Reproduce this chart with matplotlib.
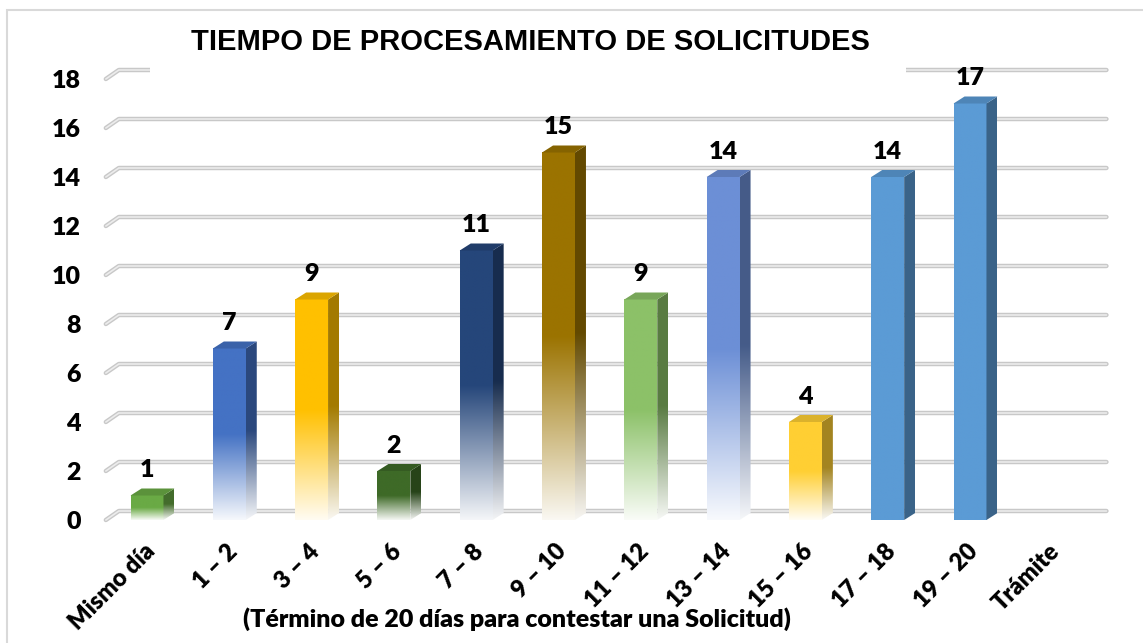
import numpy as np
import matplotlib
matplotlib.use("Agg")
import matplotlib.pyplot as plt
from matplotlib.patches import Polygon, Rectangle
from matplotlib.colors import to_rgb

# ---------------- data ----------------
categories = ["Mismo día", "1 – 2", "3 – 4", "5 – 6", "7 – 8", "9 – 10",
              "11 – 12", "13 – 14", "15 – 16", "17 – 18", "19 – 20", "Trámite"]
values = [1, 7, 9, 2, 11, 15, 9, 14, 4, 14, 17, 0]
bar_colors = ["#6AAA45", "#4472C4", "#FFC000", "#3E6A27", "#25467A", "#9B7300",
              "#8CC168", "#6C8FD6", "#FFCF33", "#5B9BD5", "#5B9BD5", "#5B9BD5"]
faded = [True, True, True, True, True, True, True, True, True, False, False, False]
yticks = list(range(0, 19, 2))
title = "TIEMPO DE PROCESAMIENTO DE SOLICITUDES"
xlabel = "(Término de 20 días para contestar una Solicitud)"

LABEL_FONT = ["Lato", "DejaVu Sans"]
LABEL_WEIGHT = "heavy"
TITLE_FONT = ["Liberation Sans", "DejaVu Sans"]

W, H = 1143, 643
fig = plt.figure(figsize=(W / 100, H / 100), dpi=100)
fig.patch.set_facecolor("white")

# plot area (front floor edge)
ax = fig.add_axes([105.85 / W, 123 / H, 987.6 / W, 441 / H])
ax.set_xlim(-0.5, len(categories) - 0.5)
ax.set_ylim(0, 18)
ax.set_facecolor("none")
for s in ax.spines.values():
    s.set_visible(False)

# pixel -> data conversion
ux = 987.6 / (len(categories))        # px per x unit
uy = 441 / 18.0                        # px per y unit
def px_x(p):
    return p / ux
def px_y(p):
    return p / uy

# depth offsets
bdx, bdy = px_x(11), px_y(7)   # bar depth
gdx, gdy = px_x(13), px_y(9)   # back wall offset

# ---------------- gridlines (back wall) ----------------
x0, x1 = ax.get_xlim()
for v in yticks:
    xs = [x0, x0 + gdx, x1 + gdx]
    ys = [v, v + gdy, v + gdy]
    ax.plot(xs, ys, color="#c8c8c8", lw=3.2, solid_capstyle="round",
            clip_on=False, zorder=1)
    ax.plot(xs, ys, color="#ececec", lw=1.2, solid_capstyle="round",
            clip_on=False, zorder=1.1)

# ---------------- bars ----------------
white = np.array([1.0, 1.0, 1.0])

def gradient(base, fade, n=256):
    t = np.linspace(0, 1, n)[:, None]
    if fade:
        w = 0.05 + 0.95 * np.clip(t / 0.5, 0, 1)
    else:
        w = np.ones_like(t)
    col = base[None, :] * w + white[None, :] * (1 - w)
    arr = np.repeat(col[:, None, :], 2, axis=1)
    return arr

bw = 0.40
for i, (v, c, fd) in enumerate(zip(values, bar_colors, faded)):
    if v <= 0:
        continue
    base = np.array(to_rgb(c))
    dark = base * 0.64
    topc = base * 0.86
    xl, xr = i - bw / 2, i + bw / 2
    # front face
    ax.imshow(gradient(base, fd), extent=[xl, xr, 0, v], origin="lower",
              aspect="auto", interpolation="bilinear", zorder=3, clip_on=False)
    # side face
    side = Polygon([(xr, 0), (xr, v), (xr + bdx, v + bdy), (xr + bdx, bdy)],
                   closed=True, facecolor="none", edgecolor="none",
                   transform=ax.transData)
    ax.add_patch(side)
    im = ax.imshow(gradient(dark, fd), extent=[xr, xr + bdx, 0, v + bdy],
                   origin="lower", aspect="auto", interpolation="bilinear",
                   zorder=3)
    im.set_clip_path(side)
    # top face
    ax.add_patch(Polygon([(xl, v), (xr, v), (xr + bdx, v + bdy), (xl + bdx, v + bdy)],
                         closed=True, facecolor=topc, edgecolor="none",
                         zorder=3.2, clip_on=False))
    # value label
    ax.annotate(str(v), (i, v), xytext=(0, 13), textcoords="offset points",
                ha="center", va="baseline", fontsize=18, fontweight=LABEL_WEIGHT,
                family=LABEL_FONT, color="black", zorder=5, annotation_clip=False)

ax.set_xlim(x0, x1)
ax.set_ylim(0, 18)

# ---------------- axes labels ----------------
ax.set_xticks([])
ax.set_yticks(yticks)
ax.set_yticklabels([str(t) for t in yticks], fontsize=18, fontweight=LABEL_WEIGHT,
                   family=LABEL_FONT)
ax.tick_params(axis="y", length=0, pad=18)

for i, lab in enumerate(categories):
    ax.annotate(lab, (i, 0), xytext=(3, -20), textcoords="offset points",
                rotation=45, ha="right", va="center", rotation_mode="anchor",
                fontsize=17, fontweight=LABEL_WEIGHT, family=LABEL_FONT,
                annotation_clip=False)

fig.text(517 / W, 1 - 619 / H, xlabel, ha="center", va="center",
         fontsize=18, fontweight=LABEL_WEIGHT, family=LABEL_FONT)

# title with opaque background box
fig.patches.append(Rectangle((150 / W, 1 - 78 / H), 756 / W, 54 / H,
                             transform=fig.transFigure, facecolor="white",
                             edgecolor="none", zorder=2.5))
fig.text(530 / W, 1 - 42 / H, title, ha="center", va="center",
         fontsize=21, fontweight="bold", family=TITLE_FONT, zorder=3)

# chart frame
fig.patches.append(Rectangle((7 / W, -20 / H), 1160 / W, (H - 10 + 20) / H,
                             transform=fig.transFigure, facecolor="none",
                             edgecolor="#d9d9d9", lw=1.5, zorder=0.5))

fig.savefig("out.png", dpi=100)
